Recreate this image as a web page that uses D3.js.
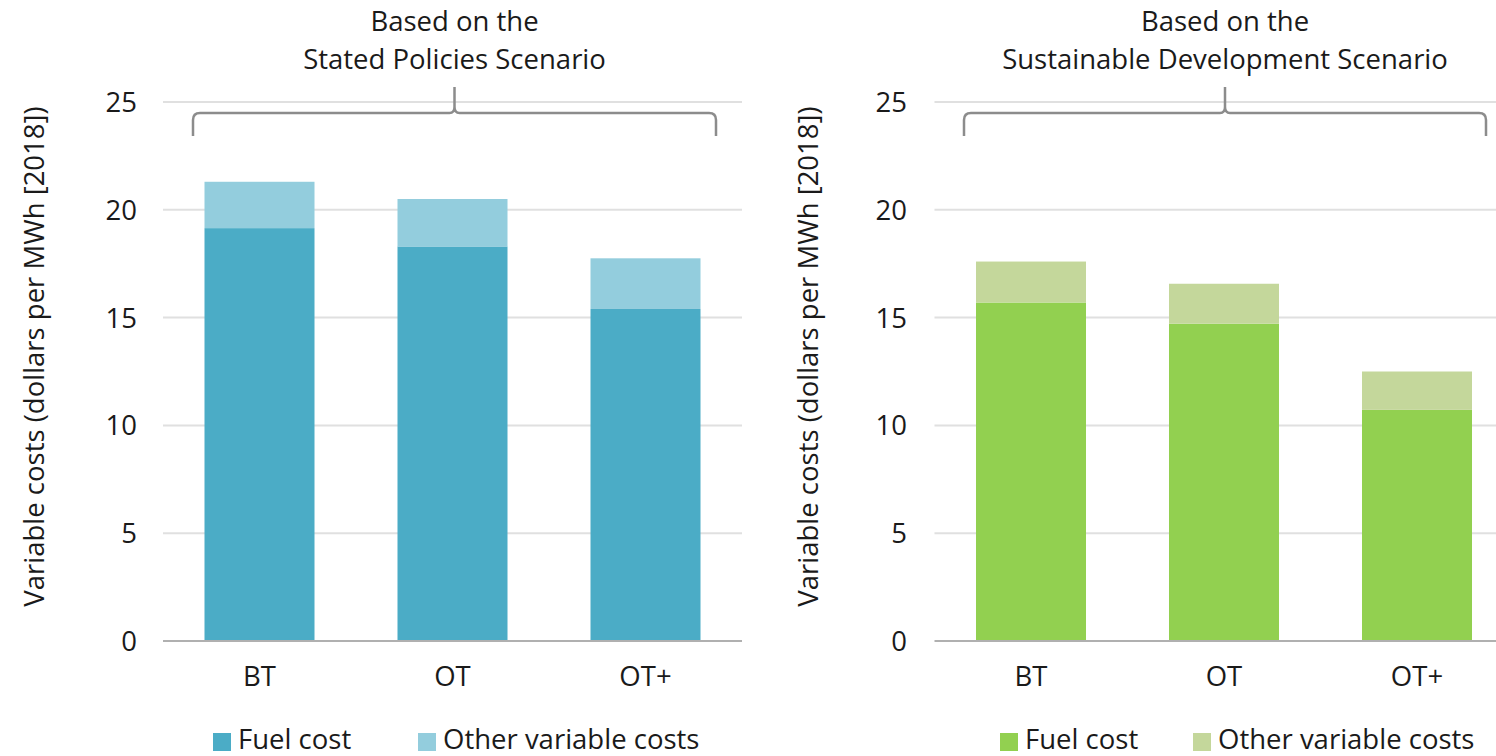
<!DOCTYPE html>
<html>
<head>
<meta charset="utf-8">
<script src="https://cdn.jsdelivr.net/npm/d3@7"></script>
<style>
  html, body { margin: 0; padding: 0; background: #fff; }
  svg { display: block; }
  text { font-family: "Open Sans", "Noto Sans", sans-serif; fill: #1a1a1a; }
</style>
</head>
<body>
<svg id="chart" width="1496" height="756"></svg>
<script>
// ---- data ----
const categories = ["BT", "OT", "OT+"];
const yTicks = [0, 5, 10, 15, 20, 25];
const seriesNames = ["Fuel cost", "Other variable costs"];

const stepsFuel = [19.15, 18.3, 15.4];
const stepsOther = [2.15, 2.2, 2.35];

const sdsFuel = [15.7, 14.72, 10.72];
const sdsOther = [1.9, 1.85, 1.78];

const titleStepsLines = ["Based on the", "Stated Policies Scenario"];
const titleSdsLines = ["Based on the", "Sustainable Development Scenario"];
const yAxisTitle = "Variable costs (dollars per MWh [2018])";

const FS = 27.5;

const panels = [
  { fuel: stepsFuel, other: stepsOther, title: titleStepsLines,
    colors: ["#4BACC6", "#93CDDD"], x0: 163, x1: 742, axisX: 44, tickX: 137,
    braceL: 193, braceR: 716, legendX: [213, 418] },
  { fuel: sdsFuel, other: sdsOther, title: titleSdsLines,
    colors: ["#92D050", "#C4D79B"], x0: 934.5, x1: 1513.5, axisX: 818, tickX: 907,
    braceL: 964, braceR: 1486, legendX: [1000, 1193] }
];

const svg = d3.select("#chart");
const y = d3.scaleLinear().domain([0, 25]).range([641, 102]);

panels.forEach(p => {
  const g = svg.append("g");
  const x = d3.scaleBand().domain(categories).range([p.x0, p.x1]).paddingInner(0.43).paddingOuter(0.215);

  // gridlines
  g.selectAll("line.grid").data(yTicks.filter(t => t > 0)).join("line")
    .attr("x1", p.x0).attr("x2", p.x1)
    .attr("y1", d => y(d)).attr("y2", d => y(d))
    .attr("stroke", "#e0e0e0").attr("stroke-width", 2);

  // tick labels
  g.selectAll("text.tick").data(yTicks).join("text")
    .attr("x", p.tickX).attr("y", d => y(d)).attr("dy", "0.36em")
    .attr("text-anchor", "end").attr("font-size", FS).text(d => d);

  // stacked bars
  const stackData = categories.map((c, i) => ({ cat: c, fuel: p.fuel[i], other: p.other[i] }));
  const stack = d3.stack().keys(["fuel", "other"])(stackData);
  stack.forEach((layer, li) => {
    g.selectAll(null).data(layer).join("rect")
      .attr("x", d => x(d.data.cat))
      .attr("width", x.bandwidth())
      .attr("y", d => y(d[1]))
      .attr("height", d => y(d[0]) - y(d[1]))
      .attr("fill", p.colors[li]);
  });

  // baseline
  g.append("line").attr("x1", p.x0).attr("x2", p.x1)
    .attr("y1", y(0)).attr("y2", y(0))
    .attr("stroke", "#b0b0b0").attr("stroke-width", 2);

  // category labels
  g.selectAll("text.cat").data(categories).join("text")
    .attr("x", d => x(d) + x.bandwidth() / 2).attr("y", 686)
    .attr("text-anchor", "middle").attr("font-size", FS).text(d => d);

  // y-axis title
  g.append("text")
    .attr("transform", `translate(${p.axisX},${(y(0) + y(25)) / 2 - 15}) rotate(-90)`)
    .attr("text-anchor", "middle").attr("font-size", FS).text(yAxisTitle);

  // brace
  const cx = (p.braceL + p.braceR) / 2;
  const by = 113, r = 7;
  const bracePath = `M${p.braceL},136 L${p.braceL},${by + r} Q${p.braceL},${by} ${p.braceL + r},${by}
    L${cx - 5},${by} Q${cx},${by} ${cx},${by - 6} L${cx},87 M${cx},${by - 6} Q${cx},${by} ${cx + 5},${by}
    L${p.braceR - r},${by} Q${p.braceR},${by} ${p.braceR},${by + r} L${p.braceR},136`;
  g.append("path").attr("d", bracePath).attr("fill", "none")
    .attr("stroke", "#8c8c8c").attr("stroke-width", 2.5);

  // title
  g.selectAll("text.title").data(p.title).join("text")
    .attr("x", cx).attr("y", (d, i) => 31 + i * 38)
    .attr("text-anchor", "middle").attr("font-size", FS).text(d => d);

  // legend
  seriesNames.forEach((s, i) => {
    g.append("rect").attr("x", p.legendX[i]).attr("y", 733).attr("width", 18).attr("height", 18)
      .attr("fill", p.colors[i]);
    g.append("text").attr("x", p.legendX[i] + 25).attr("y", 749)
      .attr("font-size", FS).text(s);
  });
});
</script>
</body>
</html>
